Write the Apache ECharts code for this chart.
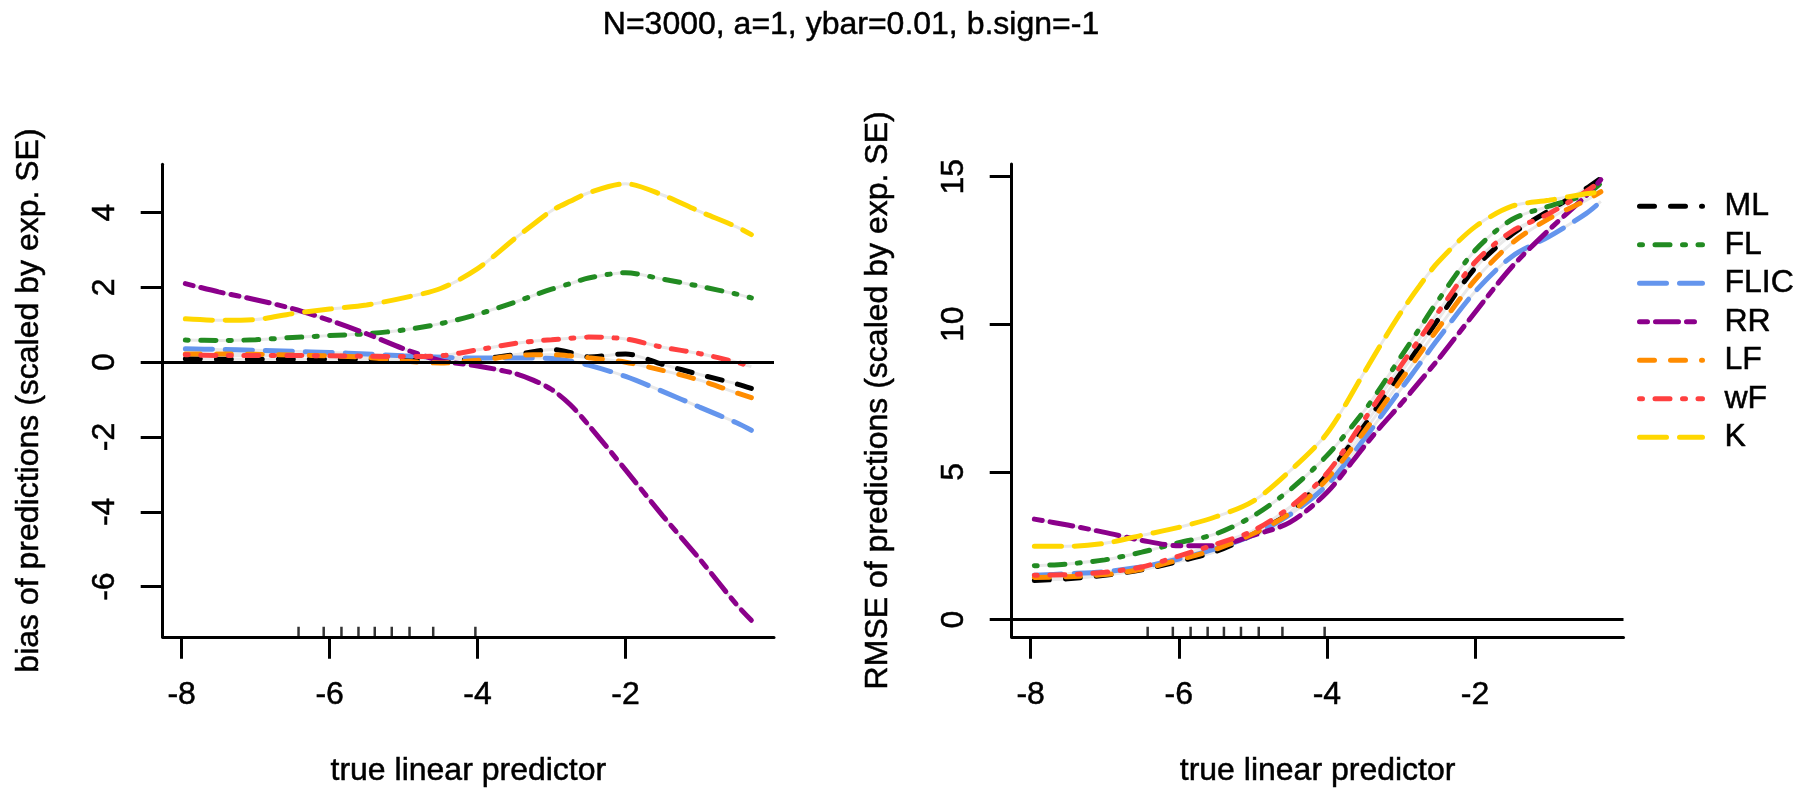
<!DOCTYPE html>
<html><head><meta charset="utf-8">
<script src="https://cdn.jsdelivr.net/npm/echarts@6/dist/echarts.min.js"></script>
<style>html,body{margin:0;padding:0;background:#fff}#c{width:1802px;height:792px}</style>
</head><body><div id="c"></div>
<script>
// ---- data ----
const lp = [-7.95, -7.5, -7, -6.5, -6, -5.5, -5, -4.5, -4, -3.5, -3.25, -3, -2.75, -2.5, -2, -1.5, -1, -0.5, -0.3];
const methods = ['ML', 'FL', 'FLIC', 'RR', 'LF', 'wF', 'K'];

const biasML   = [0.09, 0.08, 0.08, 0.08, 0.08, 0.07, 0.07, 0.06, 0.08, 0.2, 0.28, 0.34, 0.26, 0.14, 0.22, -0.06, -0.33, -0.58, -0.7];
const biasFL   = [0.59, 0.58, 0.6, 0.66, 0.71, 0.76, 0.86, 1.03, 1.28, 1.6, 1.78, 1.95, 2.1, 2.25, 2.39, 2.22, 2.03, 1.82, 1.72];
const biasFLIC = [0.36, 0.34, 0.32, 0.29, 0.26, 0.22, 0.17, 0.13, 0.11, 0.11, 0.11, 0.1, 0.03, -0.08, -0.38, -0.78, -1.2, -1.62, -1.82];
const biasRR   = [2.1, 1.88, 1.67, 1.43, 1.12, 0.76, 0.36, 0.04, -0.1, -0.3, -0.48, -0.73, -1.13, -1.68, -2.88, -4.1, -5.26, -6.48, -6.9];
const biasLF   = [0.22, 0.22, 0.21, 0.19, 0.17, 0.13, 0.03, -0.02, 0.05, 0.17, 0.2, 0.2, 0.17, 0.12, 0.0, -0.22, -0.48, -0.82, -0.95];
const biasWF   = [0.2, 0.18, 0.18, 0.18, 0.17, 0.16, 0.15, 0.17, 0.33, 0.5, 0.56, 0.6, 0.64, 0.67, 0.62, 0.4, 0.23, 0.0, -0.12];
const biasK    = [1.16, 1.12, 1.14, 1.3, 1.42, 1.53, 1.72, 1.97, 2.5, 3.3, 3.68, 4.05, 4.3, 4.53, 4.77, 4.47, 4.03, 3.62, 3.41];

const rmseML   = [1.32, 1.38, 1.5, 1.68, 1.97, 2.3, 2.88, 3.63, 4.9, 6.55, 7.45, 8.35, 9.25, 10.15, 11.9, 13.05, 13.85, 14.6, 14.95];
const rmseFL   = [1.82, 1.88, 2.02, 2.28, 2.6, 2.9, 3.5, 4.39, 5.55, 7.05, 7.95, 8.9, 9.85, 10.8, 12.5, 13.55, 14.0, 14.4, 14.78];
const rmseFLIC = [1.5, 1.55, 1.62, 1.78, 2.05, 2.4, 2.85, 3.55, 4.55, 6.1, 6.95, 7.8, 8.65, 9.5, 11.1, 12.3, 12.97, 13.75, 14.16];
const rmseRR   = [3.4, 3.2, 2.95, 2.68, 2.5, 2.5, 2.85, 3.29, 4.3, 5.85, 6.6, 7.3, 8.05, 8.8, 10.4, 11.95, 13.2, 14.35, 14.9];
const rmseLF   = [1.42, 1.45, 1.52, 1.7, 2.02, 2.38, 2.9, 3.6, 4.75, 6.35, 7.22, 8.1, 8.98, 9.85, 11.5, 12.75, 13.58, 14.2, 14.49];
const rmseWF   = [1.5, 1.52, 1.6, 1.78, 2.15, 2.55, 3.0, 3.8, 4.95, 6.75, 7.68, 8.6, 9.5, 10.4, 12.1, 13.15, 13.75, 14.5, 14.85];
const rmseK    = [2.48, 2.48, 2.58, 2.85, 3.12, 3.48, 4.0, 5.03, 6.3, 8.35, 9.4, 10.4, 11.3, 12.1, 13.3, 14.0, 14.2, 14.42, 14.49];

const xTicks = [-8, -6, -4, -2];
const biasTicks = [-6, -4, -2, 0, 2, 4];
const rmseTicks = [0, 5, 10, 15];
const rug = [-6.42, -6.08, -5.84, -5.61, -5.39, -5.16, -4.92, -4.60, -4.03];

const titleText = 'N=3000, a=1, ybar=0.01, b.sign=-1';
const xTitle = 'true linear predictor';
const yTitles = ['bias of predictions (scaled by exp. SE)', 'RMSE of predictions (scaled by exp. SE)'];

// ---- styles ----
const FONT = '"Liberation Sans", Arial, Helvetica, sans-serif';
const colors = ['#000000', '#228B22', '#6495ED', '#8B008B', '#FF8C00', '#FF4040', '#FFD700'];
const dashed = [15, 16], dotdash = [3, 12.5, 15, 12.5], longdash = [27, 13], twodash = [8, 8, 23, 8];
const dashes = [dashed, dotdash, longdash, twodash, dashed, dotdash, longdash];
const LW = 5;

const panels = [
  { vals: [biasML, biasFL, biasFLIC, biasRR, biasLF, biasWF, biasK], ticks: biasTicks, ymin: -7.34, ymax: 5.29 },
  { vals: [rmseML, rmseFL, rmseFLIC, rmseRR, rmseLF, rmseWF, rmseK], ticks: rmseTicks, ymin: -0.585, ymax: 15.43 }
];
const XMIN = -8.256, XMAX = 0.006;

const chart = echarts.init(document.getElementById('c'), null, { renderer: 'canvas' });
const txt = { fontSize: 32, color: '#000', fontFamily: FONT, textBorderColor: '#000', textBorderWidth: 0.5 };
const axLine = { show: true, onZero: false, lineStyle: { color: '#000', width: 3 } };

const xAxis = [], yAxis = [], series = [];
panels.forEach((p, g) => {
  xAxis.push({
    type: 'value', gridIndex: g, min: XMIN, max: XMAX,
    axisLine: axLine,
    axisTick: { show: true, length: 22, customValues: xTicks, lineStyle: { color: '#000', width: 3 } },
    axisLabel: { show: true, customValues: xTicks, margin: 42, ...txt },
    splitLine: { show: false },
    name: xTitle, nameLocation: 'middle', nameGap: 118, nameTextStyle: txt
  });
  yAxis.push({
    type: 'value', gridIndex: g, min: p.ymin, max: p.ymax,
    axisLine: axLine,
    axisTick: { show: true, length: 22, customValues: p.ticks, lineStyle: { color: '#000', width: 3 } },
    axisLabel: { show: true, customValues: p.ticks, rotate: 90, margin: 42, ...txt },
    splitLine: { show: false },
    name: yTitles[g], nameLocation: 'middle', nameGap: 118, nameRotate: 90, nameTextStyle: txt
  });
  // light underlay
  p.vals.forEach((v, k) => {
    series.push({
      name: methods[k] + '_u', type: 'line', xAxisIndex: g, yAxisIndex: g,
      data: lp.map((x, i) => [x, v[i]]), showSymbol: false, symbol: 'none', smooth: 0.3,
      lineStyle: { color: '#e9e9e9', width: 3 }, silent: true, z: 2
    });
  });
  p.vals.forEach((v, k) => {
    const s = {
      name: methods[k], type: 'line', xAxisIndex: g, yAxisIndex: g,
      data: lp.map((x, i) => [x, v[i]]), showSymbol: false, symbol: 'none', smooth: 0.3,
      itemStyle: { color: colors[k] },
      lineStyle: { color: colors[k], width: LW, type: dashes[k], cap: 'round' },
      silent: true, z: 3
    };
    if (k === p.vals.length - 1) {
      s.markLine = { silent: true, symbol: 'none', label: { show: false },
        lineStyle: { color: '#000', width: 3, type: 'solid' }, data: [{ yAxis: 0 }] };
    }
    series.push(s);
  });
  series.push({
    name: 'rug' + g, type: 'scatter', xAxisIndex: g, yAxisIndex: g,
    data: rug.map(x => [x, p.ymin]), symbol: 'rect', symbolSize: [2.5, 10], symbolOffset: [0, -5],
    itemStyle: { color: '#000' }, silent: true, z: 4
  });
});

chart.setOption({
  animation: false,
  backgroundColor: '#fff',
  title: { text: titleText, left: 851, top: 9, textAlign: 'center', padding: 0,
    textStyle: { ...txt, fontWeight: 'normal' } },
  grid: [
    { left: 162.7, top: 164.3, width: 611.3, height: 473.7 },
    { left: 1011.7, top: 164, width: 611.8, height: 474 }
  ],
  legend: {
    data: methods, orient: 'vertical', left: 1632, top: 185, itemWidth: 63, itemHeight: 5, itemGap: 6,
    selectedMode: false,
    itemStyle: { color: 'rgba(0,0,0,0)', borderWidth: 0, opacity: 0 },
    lineStyle: { width: 5, cap: 'round' },
    textStyle: { ...txt, padding: [0, 0, 0, 17] }
  },
  xAxis, yAxis, series
});
</script></body></html>
